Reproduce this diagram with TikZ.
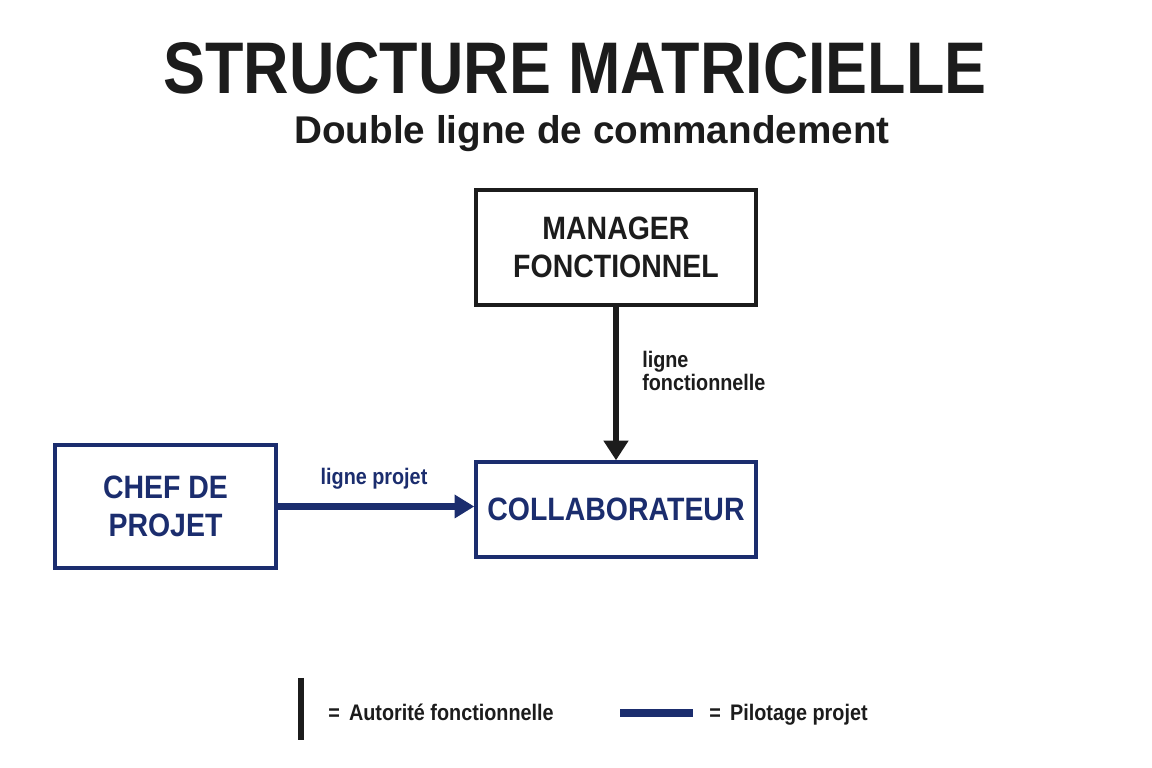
\documentclass[tikz,border=0pt]{standalone}
\usepackage{fontspec}
\setmainfont{Liberation Sans}
\newfontfamily\condfont{Liberation Sans}[FakeStretch=0.88]
\newfontfamily\titlefont{Liberation Sans}[FakeStretch=0.86]
\usepackage{tikz}
\usetikzlibrary{arrows.meta, positioning}
\definecolor{navy}{RGB}{27,45,110}
\definecolor{ink}{RGB}{28,28,28}

\begin{document}
\begin{tikzpicture}[line cap=butt,line join=miter,x=0.025cm,y=0.025cm,
		box/.style={draw, line width=2.4pt, inner sep=0pt, align=center,
			font=\condfont\bfseries\fontsize{23}{27.5}\selectfont},
		lab/.style={font=\condfont\bfseries\fontsize{16}{18}\selectfont, inner sep=0pt}]
		\useasboundingbox[fill=white] (0,0) rectangle (1152,768);

		% Titel
		\node[anchor=base, text=ink, inner sep=0pt,
			font=\titlefont\bfseries\fontsize{52}{60}\selectfont] (titel) at (575,674) {STRUCTURE MATRICIELLE};
		\node[anchor=base, text=ink, inner sep=0pt,
			font=\bfseries\fontsize{27.5}{30}\selectfont] (untertitel) at (592,624) {Double ligne de commandement};

		% Kaestchen
		\node[box, color=ink, minimum width=7cm, minimum height=2.875cm] (manager) at (616,520.5) {MANAGER\\FONCTIONNEL};
		\node[box, color=navy, minimum width=5.525cm, minimum height=3.075cm] (chef) at (165.5,261.5) {CHEF DE\\PROJET};
		\node[box, color=navy, minimum width=7cm, minimum height=2.375cm] (collab) at (616,258.5) {COLLABORATEUR};

		% Linien
		\draw[color=ink, line width=3.8pt, -{Triangle[width=17pt,length=14pt]}] (manager.south) -- (collab.north);
		\draw[color=navy, line width=4.8pt, -{Triangle[width=16pt,length=14pt]}] (chef.east) -- (chef.east -| collab.west);
		\node[lab, text=ink, anchor=west, align=left] (lfonc) at (642,397) {ligne\\[-1pt]fonctionnelle};
		\node[lab, text=navy] (lproj) at (374,289) {ligne projet};

		% Legende
		\draw[color=ink, line width=4.4pt] (301,90) -- (301,28);
		\node[lab, text=ink, anchor=base west] (lega) at (328,47) {=\ \,Autorit\'e fonctionnelle};
		\draw[color=navy, line width=5pt] (620,55) -- (693,55);
		\node[lab, text=ink, anchor=base west] (legb) at (709,47) {=\ \,Pilotage projet};
	\end{tikzpicture}
\end{document}
